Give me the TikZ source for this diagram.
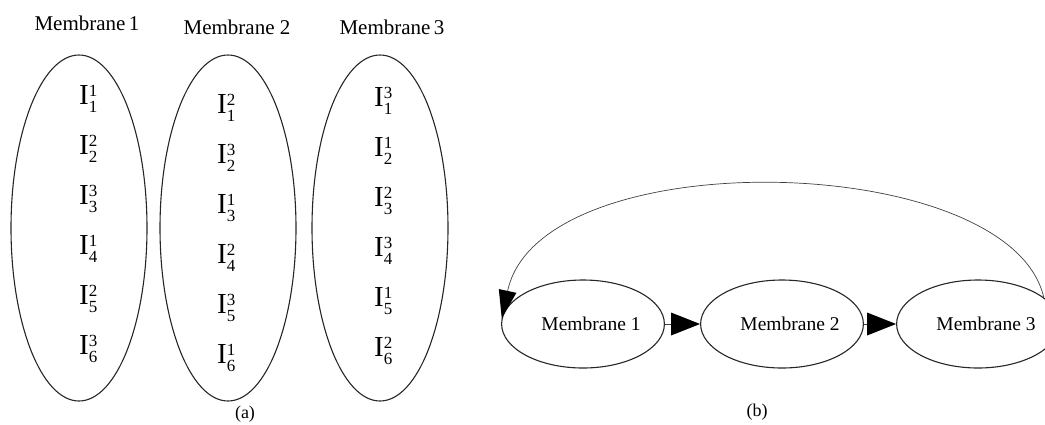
\documentclass[tikz,border=0pt]{standalone}
\usepackage{fontspec}
\setmainfont{Liberation Serif}
\usetikzlibrary{shapes.geometric,arrows.meta}

% I with a subscript (#1) and a superscript (#2), stacked
\newcommand\Ival[2]{{\fontsize{29}{30}\selectfont I}\rlap{\raisebox{7.5pt}{\fontsize{17}{17}\selectfont #2}}\raisebox{-8.5pt}{\fontsize{17}{17}\selectfont #1}}

\begin{document}
\begin{tikzpicture}[x=1pt,y=-1pt,
  memcol/.style={draw=black!85, line width=1.1pt, ellipse, minimum width=136pt, minimum height=346pt, inner sep=0pt},
  coltitle/.style={font=\fontsize{21}{24}\selectfont, inner sep=0pt},
  item/.style={inner sep=0pt, anchor=base west},
  memnode/.style={draw=black!85, ellipse, line width=1.1pt, minimum width=160pt, minimum height=88pt, inner sep=0pt, font=\fontsize{19.5}{22}\selectfont},
  flow/.style={draw=black!75, line width=0.9pt, -{Triangle[length=29pt,width=23pt,fill=black,line width=0pt]}},
  back/.style={draw=black!75, line width=0.7pt, -{Triangle[length=28pt,width=18pt,fill=black,line width=0pt]}},
  caption/.style={font=\fontsize{18}{20}\selectfont, inner sep=0pt}]
\useasboundingbox (0,0) rectangle (1045,424);
\clip (0,0) rectangle (1045,424);

% (a) three membranes with their items
\node[coltitle] (t1) at (87,23) {Membrane\,1};
\node[coltitle] (t2) at (237,27) {Membrane 2};
\node[coltitle] (t3) at (392,27) {Membrane\,3};

\node[memcol] (c1) at (79,228) {};
\node[memcol] (c2) at (228,228) {};
\node[memcol] (c3) at (380,228) {};

\node[item] (a1) at (79,104) {\Ival{1}{1}};
\node[item] (a2) at (79,154) {\Ival{2}{2}};
\node[item] (a3) at (79,204) {\Ival{3}{3}};
\node[item] (a4) at (79,254) {\Ival{4}{1}};
\node[item] (a5) at (79,304) {\Ival{5}{2}};
\node[item] (a6) at (79,354) {\Ival{6}{3}};

\node[item] (b1) at (217,113) {\Ival{1}{2}};
\node[item] (b2) at (217,163) {\Ival{2}{3}};
\node[item] (b3) at (217,213) {\Ival{3}{1}};
\node[item] (b4) at (217,263) {\Ival{4}{2}};
\node[item] (b5) at (217,313) {\Ival{5}{3}};
\node[item] (b6) at (217,363) {\Ival{6}{1}};

\node[item] (d1) at (374,106) {\Ival{1}{3}};
\node[item] (d2) at (374,156) {\Ival{2}{1}};
\node[item] (d3) at (374,206) {\Ival{3}{2}};
\node[item] (d4) at (374,256) {\Ival{4}{3}};
\node[item] (d5) at (374,306) {\Ival{5}{1}};
\node[item] (d6) at (374,356) {\Ival{6}{2}};

\node[caption] (capa) at (245,414) {(a)};

% (b) ring of membranes
\node[memnode] (m1) at (583,324) {\hspace*{16pt}Membrane 1};
\node[memnode] (m2) at (782,324) {\hspace*{16pt}Membrane 2};
\node[memnode] (m3) at (978,324) {\hspace*{16pt}Membrane 3};

\draw[flow] (m1) -- (m2);
\draw[flow] (m2) -- (m3);
\draw[back] (m3.22) .. controls (1010,150) and (540,140) .. (m1.176);

\node[caption] (capb) at (757,412) {(b)};
\end{tikzpicture}
\end{document}
